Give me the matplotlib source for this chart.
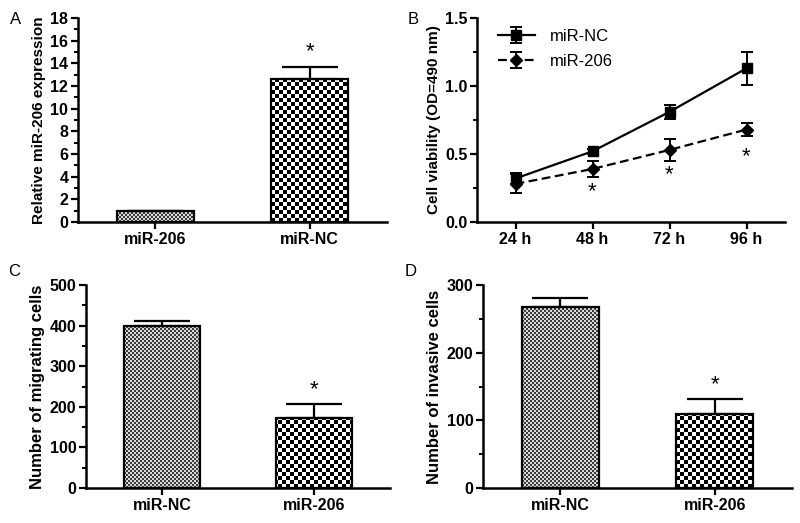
import numpy as np
import matplotlib
matplotlib.use("Agg")
import matplotlib.pyplot as plt
from matplotlib.colors import ListedColormap
from matplotlib.ticker import MultipleLocator

plt.rcParams["font.family"] = ["Liberation Sans", "DejaVu Sans"]

# Panel A: relative expression
cats_a = ["miR-206", "miR-NC"]
vals_a = [1.0, 12.6]
err_a = [0.0, 1.1]
star_a = [None, 15.0]

# Panel B: cell viability
times_b = ["24 h", "48 h", "72 h", "96 h"]
nc_b = [0.32, 0.52, 0.81, 1.13]
nc_err_b = [0.04, 0.02, 0.05, 0.12]
mir_b = [0.28, 0.39, 0.53, 0.68]
mir_err_b = [0.07, 0.06, 0.08, 0.05]
star_b = [None, 0.22, 0.35, 0.48]

# Panel C: migration
cats_c = ["miR-NC", "miR-206"]
vals_c = [398, 172]
err_c = [14, 35]
star_c = [None, 241]

# Panel D: invasion
cats_d = ["miR-NC", "miR-206"]
vals_d = [268, 109]
err_d = [13, 23]
star_d = [None, 152]

W, H = 800, 523
fig = plt.figure(figsize=(W / 100, H / 100), dpi=100)


def px_axes(x0, y0, x1, y1):
    ax = fig.add_axes([x0 / W, 1 - y1 / H, (x1 - x0) / W, (y1 - y0) / H])
    ax.pixel_size = (x1 - x0, y1 - y0)
    return ax


def style_axes(ax):
    for s in ["top", "right"]:
        ax.spines[s].set_visible(False)
    for s in ["left", "bottom"]:
        ax.spines[s].set_linewidth(1.8)
    ax.tick_params(which="major", direction="out", length=5, width=1.6,
                   labelsize=11.5, pad=2)
    ax.tick_params(which="minor", direction="out", length=3, width=1.4)
    for lab in ax.get_xticklabels() + ax.get_yticklabels():
        lab.set_fontweight("bold")


def pattern_fill(ax, patch, cell, c1, c2):
    xl, yl = ax.get_xlim(), ax.get_ylim()
    w_px, h_px = ax.pixel_size
    nx, ny = int(round(w_px / cell)), int(round(h_px / cell))
    arr = np.add.outer(np.arange(ny), np.arange(nx)) % 2
    im = ax.imshow(arr, extent=(xl[0], xl[1], yl[0], yl[1]), origin="lower",
                   cmap=ListedColormap([c1, c2]), interpolation="nearest",
                   aspect="auto", zorder=1)
    im.set_clip_path(patch)
    ax.set_xlim(xl)
    ax.set_ylim(yl)


def bar_panel(ax, cats, vals, errs, stars, ymax, major, minor, ylabel, lab_size):
    x = np.arange(len(cats))
    ax.set_xlim(-0.5, 1.5)
    ax.set_ylim(0, ymax)
    bars = ax.bar(x, vals, width=0.5, facecolor="none", edgecolor="black",
                  linewidth=1.6, zorder=3)
    pattern_fill(ax, bars[0], 2, "#3c3c3c", "#d8d8d8")
    pattern_fill(ax, bars[1], 4, "black", "white")
    ax.errorbar(x, vals, yerr=[np.zeros(len(vals)), errs], fmt="none",
                ecolor="black", elinewidth=1.6, capsize=20, capthick=1.6,
                zorder=4)
    for xi, s in zip(x, stars):
        if s is not None:
            ax.text(xi, s, "*", ha="center", va="center", fontsize=16)
    ax.set_xticks(x)
    ax.set_xticklabels(cats)
    ax.yaxis.set_major_locator(MultipleLocator(major))
    ax.yaxis.set_minor_locator(MultipleLocator(minor))
    ax.set_ylabel(ylabel, fontsize=lab_size, fontweight="bold", labelpad=3)
    style_axes(ax)


# Panel A
ax_a = px_axes(78, 18, 387, 222)
bar_panel(ax_a, cats_a, vals_a, err_a, star_a, 18, 2, 1,
          "Relative miR-206 expression", 11)

# Panel B
ax_b = px_axes(477, 18, 785, 222)
xb = np.arange(1, len(times_b) + 1)
ax_b.errorbar(xb, nc_b, yerr=nc_err_b, color="black", marker="s",
              markersize=7.5, linewidth=1.6, linestyle="-", capsize=4,
              capthick=1.4, elinewidth=1.4, label="miR-NC")
ax_b.errorbar(xb, mir_b, yerr=mir_err_b, color="black", marker="D",
              markersize=6, linewidth=1.6, linestyle=(0, (4, 2)), capsize=4,
              capthick=1.4, elinewidth=1.4, label="miR-206")
for xi, s in zip(xb, star_b):
    if s is not None:
        ax_b.text(xi, s, "*", ha="center", va="center", fontsize=16)
ax_b.set_xlim(0.5, 4.5)
ax_b.set_ylim(0, 1.5)
ax_b.set_xticks(xb)
ax_b.set_xticklabels(times_b)
ax_b.yaxis.set_major_locator(MultipleLocator(0.5))
ax_b.yaxis.set_minor_locator(MultipleLocator(0.25))
ax_b.set_ylabel("Cell viability (OD=490 nm)", fontsize=11,
                fontweight="bold", labelpad=3)
style_axes(ax_b)
leg = ax_b.legend(loc="upper left", bbox_to_anchor=(0.02, 1.02), frameon=False,
                  fontsize=12, handlelength=2.2, handletextpad=0.9,
                  labelspacing=0.6)

# Panel C
ax_c = px_axes(86, 285, 390, 488)
bar_panel(ax_c, cats_c, vals_c, err_c, star_c, 500, 100, 50,
          "Number of migrating cells", 12)

# Panel D
ax_d = px_axes(483, 285, 792, 488)
bar_panel(ax_d, cats_d, vals_d, err_d, star_d, 300, 100, 50,
          "Number of invasive cells", 12)

# Panel letters
for lab, (px, py) in zip("ABCD", [(10, 20), (408, 20), (8, 272), (405, 272)]):
    fig.text(px / W, 1 - py / H, lab, fontsize=12, ha="left", va="center")

fig.savefig("out.png", dpi=100, facecolor="white")
